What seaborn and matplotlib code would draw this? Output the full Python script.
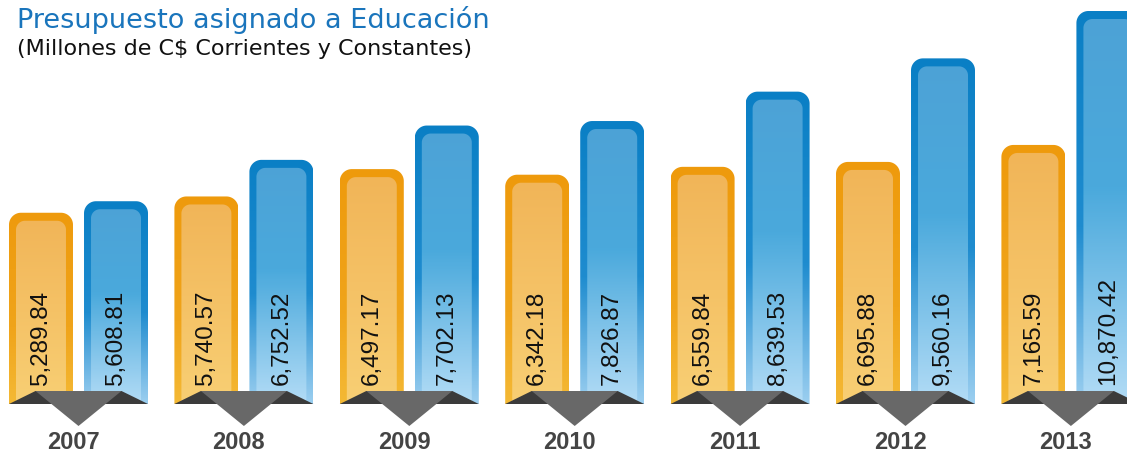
import numpy as np
import pandas as pd
import matplotlib
matplotlib.use("Agg")
import matplotlib.pyplot as plt
import seaborn as sns
from matplotlib.path import Path
from matplotlib.patches import PathPatch, Polygon
from matplotlib.colors import LinearSegmentedColormap
from matplotlib import font_manager as fm

years = ["2007", "2008", "2009", "2010", "2011", "2012", "2013"]
corrientes = [5289.84, 5740.57, 6497.17, 6342.18, 6559.84, 6695.88, 7165.59]
constantes = [5608.81, 6752.52, 7702.13, 7826.87, 8639.53, 9560.16, 10870.42]
series_names = ["Corrientes", "Constantes"]

title = "Presupuesto asignado a Educación"
subtitle = "(Millones de C$ Corrientes y Constantes)"

df = pd.DataFrame({
    "year": years * 2,
    "value": corrientes + constantes,
    "serie": [series_names[0]] * len(years) + [series_names[1]] * len(years),
})

sns.set_theme(style="white")
plt.rcParams["font.family"] = ["DejaVu Sans"]


def find_font(fname_end, fallback_weight="normal"):
    for f in fm.fontManager.ttflist:
        if f.fname.endswith(fname_end):
            return fm.FontProperties(fname=f.fname)
    return fm.FontProperties(family="DejaVu Sans", weight=fallback_weight)


fp_reg = find_font("LiberationSans-Regular.ttf")
fp_bold = find_font("LiberationSans-Bold.ttf", "bold")

W, H = 1127, 456
fig = plt.figure(figsize=(W / 100, H / 100), dpi=100)
ax = fig.add_axes([0, 0, 1, 1])

sns.barplot(data=df, x="year", y="value", hue="serie", width=0.907, gap=0.147,
            palette=["#F1B457", "#4DA2D6"], legend=False, ax=ax, errorbar=None)

px_x = 165.4                 # pixels per category
px_y = 1 / 27.66             # pixels per value unit
base_px = 405                # baseline pixel from top
ax.set_xlim(-78.5 / px_x, (W - 78.5) / px_x)
ax.set_ylim(-(H - base_px) / px_y, base_px / px_y)
ax.axis("off")


def ux(p):
    return p / px_x


def uy(p):
    return p / px_y


def rtop(x0, x1, y0, y1, rx, ry, n=24):
    verts = [(x0, y0), (x0, y1 - ry)]
    t = np.linspace(np.pi, np.pi / 2, n)
    verts += list(zip(x0 + rx + rx * np.cos(t), y1 - ry + ry * np.sin(t)))
    t = np.linspace(np.pi / 2, 0, n)
    verts += list(zip(x1 - rx + rx * np.cos(t), y1 - ry + ry * np.sin(t)))
    verts += [(x1, y0), (x0, y0)]
    codes = [Path.MOVETO] + [Path.LINETO] * (len(verts) - 2) + [Path.CLOSEPOLY]
    return Path(verts, codes)


cm_border = {
    0: LinearSegmentedColormap.from_list("ob", [(0, "#EE9A0C"), (0.6, "#F0A41A"), (1, "#F4B935")], N=1024),
    1: LinearSegmentedColormap.from_list("bb", [(0, "#0A7FC5"), (0.55, "#1F8CCF"), (1, "#9CCFF0")], N=1024),
}
cm_inner = {
    0: LinearSegmentedColormap.from_list("oi", [(0, "#F1B457"), (1, "#F8CF74")], N=1024),
    1: LinearSegmentedColormap.from_list("bi", [(0, "#4DA2D6"), (0.45, "#4AA9DC"), (1, "#B3DCF6")], N=1024),
}

bars = list(ax.patches)
n = len(years)
for k, bar in enumerate(bars):
    s = k // n
    x0 = bar.get_x()
    w = bar.get_width()
    h = bar.get_height()
    bar.set_visible(False)
    x1 = x0 + w
    rows = max(int(round(h * px_y)), 2)
    grad = np.linspace(0, 1, rows).reshape(-1, 1)
    outer = rtop(x0, x1, 0, h, ux(12), uy(12))
    inner = rtop(x0 + ux(7), x1 - ux(7), 0, h - uy(8), ux(9), uy(9))
    for path, cmap in ((outer, cm_border[s]), (inner, cm_inner[s])):
        pp = PathPatch(path, facecolor="none", edgecolor="none")
        ax.add_patch(pp)
        im = ax.imshow(grad, cmap=cmap, extent=[x0, x1, 0, h], origin="upper",
                       aspect="auto", zorder=2, interpolation="none")
        im.set_clip_path(pp)
    ax.text(x0 + w / 2, uy(20), f"{h:,.2f}", rotation=90, ha="center", va="bottom",
            fontproperties=fp_reg, fontsize=17.5, color="#111111", zorder=5)

for i, yr in enumerate(years):
    left = bars[i].get_x()
    right = bars[i + n].get_x() + bars[i + n].get_width()
    cx = (left + right) / 2
    dark = Polygon([(left, 0), (cx - ux(43), uy(13)), (cx + ux(43), uy(13)), (right, 0)],
                   closed=True, facecolor="#3B3B3B", edgecolor="none", zorder=6)
    grey = Polygon([(cx - ux(43), uy(13)), (cx + ux(43), uy(13)), (cx, uy(-22))],
                   closed=True, facecolor="#686868", edgecolor="none", zorder=7)
    ax.add_patch(dark)
    ax.add_patch(grey)
    ax.text(cx - ux(5), uy(-38), yr, ha="center", va="center", fontproperties=fp_bold,
            fontsize=17, color="#444444", zorder=8)

fig.text(17 / W, 1 - 28 / H, title, ha="left", va="baseline", fontsize=19.5,
         color="#1A75BC", family=["DejaVu Sans"])
fig.text(17 / W, 1 - 55 / H, subtitle, ha="left", va="baseline", fontsize=16,
         color="#111111", family=["DejaVu Sans"])

fig.savefig("out.png", dpi=100)
